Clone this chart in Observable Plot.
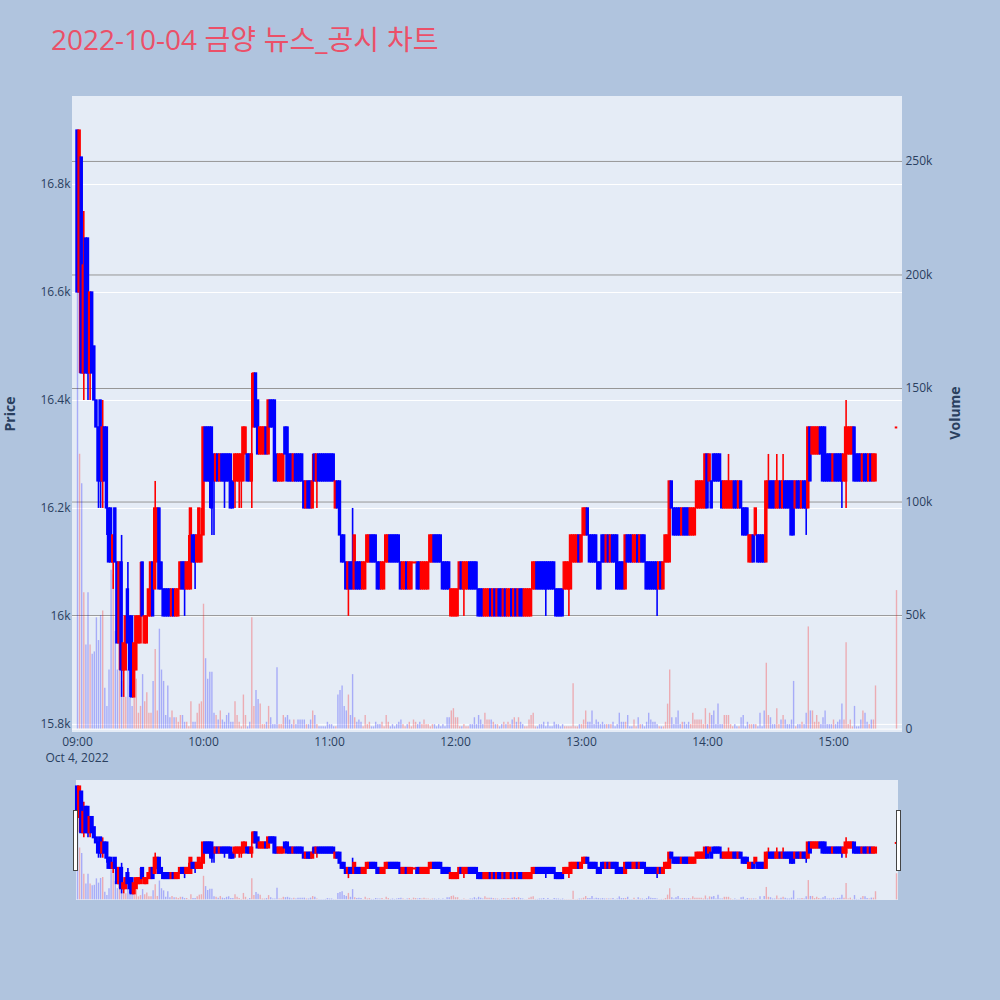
<!DOCTYPE html>
<html lang="ko">
<head>
<meta charset="utf-8">
<script src="https://cdn.jsdelivr.net/npm/d3@7"></script>
<script src="https://cdn.jsdelivr.net/npm/@observablehq/plot@0.6"></script>
<style>
  html, body { margin:0; padding:0; }
  body { width:1000px; height:1000px; background:#b0c4de; position:relative; overflow:hidden; font-family:"Open Sans", "Noto Sans CJK KR", sans-serif; }
  .layer { position:absolute; left:0; }
  .panel { position:absolute; background:#e5ecf6; }
  .handle { position:absolute; width:3px; height:59px; background:#ffffff; border:1px solid #444444; }
</style>
</head>
<body>
<div class="panel" style="left:72px;top:96px;width:830px;height:636px"></div>
<div class="panel" style="left:76px;top:780px;width:822px;height:120px"></div>
<svg class="layer" style="top:0" width="1000" height="1000" font-family="'Open Sans', sans-serif">
  <text x="51" y="50" font-size="28" fill="#eb5068">2022-10-04 <tspan font-family="'Noto Sans CJK KR'" font-size="28">금양 뉴스</tspan>_<tspan font-family="'Noto Sans CJK KR'" font-size="28">공시 차트</tspan></text>
  <text transform="translate(15,414) rotate(-90)" text-anchor="middle" font-size="14" font-weight="bold" fill="#2a3f5f">Price</text>
  <text transform="translate(960,413) rotate(-90)" text-anchor="middle" font-size="14" font-weight="bold" fill="#2a3f5f">Volume</text>
  <text x="77" y="762" text-anchor="middle" font-size="12" fill="#2a3f5f">Oct 4, 2022</text>
</svg>
<script>
// ---- data: 1-minute candles from 09:00 to 15:20, plus the 15:30 closing auction ----
const opens = [
16900,16600,16850,16450,16700,16700,16450,16600,16500,16400,
16350,16400,16250,16350,16350,16200,16200,16100,16200,16100,
15950,16100,15900,15900,16050,16000,16000,15850,15900,15950,
15950,16100,15950,15950,16000,16000,16100,16050,16100,16200,
16100,16050,16050,16050,16050,16000,16050,16000,16000,16050,
16100,16100,16050,16050,16050,16150,16150,16100,16100,16100,
16150,16350,16350,16350,16350,16300,16250,16300,16250,16300,
16300,16300,16300,16300,16250,16250,16250,16250,16250,16250,
16300,16300,16300,16250,16350,16450,16400,16300,16300,16300,
16350,16300,16400,16400,16400,16300,16250,16250,16250,16350,
16350,16300,16300,16250,16300,16300,16300,16300,16250,16200,
16250,16250,16200,16300,16250,16300,16300,16300,16300,16300,
16300,16300,16300,16200,16250,16250,16150,16150,16100,16050,
16100,16100,16050,16100,16100,16100,16050,16050,16100,16100,
16150,16150,16150,16100,16100,16050,16050,16100,16100,16150,
16150,16150,16150,16150,16100,16050,16050,16100,16050,16050,
16100,16100,16100,16100,16050,16050,16050,16050,16100,16100,
16150,16150,16150,16150,16100,16100,16100,16100,16000,16000,
16000,16000,16050,16100,16050,16050,16050,16100,16100,16100,
16100,16050,16050,16050,16000,16000,16000,16050,16000,16050,
16000,16050,16050,16000,16050,16000,16000,16050,16000,16050,
16000,16050,16050,16000,16000,16000,16000,16050,16050,16100,
16100,16100,16100,16100,16100,16100,16100,16100,16050,16050,
16050,16050,16050,16050,16050,16050,16100,16100,16100,16150,
16100,16150,16150,16200,16150,16150,16150,16150,16100,16100,
16150,16150,16100,16150,16100,16150,16150,16150,16100,16100,
16100,16050,16150,16150,16150,16100,16100,16150,16100,16150,
16150,16100,16100,16100,16100,16100,16100,16050,16100,16050,
16100,16100,16100,16250,16200,16200,16200,16200,16150,16200,
16200,16200,16150,16150,16150,16200,16200,16200,16200,16200,
16300,16250,16250,16300,16300,16300,16300,16250,16200,16200,
16200,16200,16200,16250,16250,16200,16250,16200,16200,16200,
16100,16100,16150,16150,16150,16150,16150,16150,16100,16200,
16250,16250,16250,16200,16200,16250,16200,16250,16250,16250,
16250,16250,16200,16250,16250,16200,16250,16250,16200,16350,
16300,16300,16300,16300,16350,16350,16350,16300,16300,16300,
16250,16300,16300,16300,16300,16250,16250,16300,16300,16300,
16350,16300,16300,16300,16250,16300,16300,16250,16300,16250,
16250,
16350];
const highs = [
16900,16900,16850,16750,16700,16700,16600,16600,16500,16400,
16350,16400,16400,16350,16350,16200,16200,16150,16200,16100,
16100,16150,15950,16000,16100,16000,16000,15950,16000,16000,
16100,16100,16000,16000,16050,16100,16100,16250,16200,16200,
16100,16050,16050,16050,16050,16050,16050,16050,16050,16100,
16100,16100,16100,16150,16200,16150,16150,16150,16200,16200,
16350,16350,16350,16350,16350,16300,16300,16300,16300,16300,
16300,16300,16300,16300,16250,16300,16300,16300,16300,16350,
16350,16300,16300,16450,16450,16450,16400,16350,16350,16350,
16350,16400,16400,16400,16400,16300,16300,16300,16300,16350,
16350,16300,16300,16300,16300,16300,16300,16300,16250,16250,
16250,16250,16300,16300,16300,16300,16300,16300,16300,16300,
16300,16300,16300,16250,16250,16250,16150,16150,16100,16100,
16100,16200,16150,16100,16100,16100,16100,16100,16150,16150,
16150,16150,16150,16100,16100,16100,16100,16150,16150,16150,
16150,16150,16150,16150,16100,16100,16100,16100,16100,16100,
16100,16100,16100,16100,16100,16100,16100,16100,16150,16150,
16150,16150,16150,16150,16100,16100,16100,16100,16050,16050,
16050,16050,16100,16100,16100,16100,16100,16100,16100,16100,
16100,16050,16050,16050,16050,16050,16050,16050,16050,16050,
16050,16050,16050,16050,16050,16050,16050,16050,16050,16050,
16050,16050,16050,16050,16050,16050,16050,16100,16100,16100,
16100,16100,16100,16100,16100,16100,16100,16100,16050,16050,
16050,16050,16100,16100,16100,16150,16150,16150,16150,16150,
16150,16200,16200,16200,16150,16150,16150,16150,16100,16100,
16150,16150,16150,16150,16150,16150,16150,16150,16100,16100,
16100,16150,16150,16150,16150,16150,16150,16150,16150,16150,
16150,16100,16100,16100,16100,16100,16100,16100,16100,16100,
16150,16150,16250,16250,16200,16200,16200,16200,16200,16200,
16200,16200,16200,16200,16200,16250,16250,16250,16250,16300,
16300,16300,16250,16300,16300,16300,16300,16250,16250,16250,
16300,16250,16250,16250,16250,16250,16250,16200,16200,16200,
16150,16150,16150,16200,16150,16150,16150,16150,16250,16300,
16250,16250,16250,16300,16250,16250,16300,16250,16250,16250,
16250,16250,16250,16250,16250,16250,16250,16250,16350,16350,
16350,16350,16350,16350,16350,16350,16350,16300,16300,16300,
16300,16300,16300,16300,16300,16300,16400,16350,16350,16350,
16350,16300,16300,16300,16300,16300,16300,16300,16300,16300,
16300,
16350];
const lows = [
16600,16450,16450,16400,16450,16400,16400,16450,16400,16350,
16200,16200,16200,16250,16150,16100,16100,16050,16100,15950,
15900,15850,15850,15900,15950,15850,15850,15850,15900,15950,
15950,16000,15950,15950,16000,16000,16000,16050,16100,16050,
16050,16000,16000,16000,16000,16000,16000,16000,16000,16050,
16050,16000,16050,16050,16050,16100,16050,16100,16100,16100,
16150,16250,16250,16200,16150,16150,16250,16250,16250,16250,
16200,16250,16250,16200,16200,16200,16250,16200,16200,16250,
16300,16250,16250,16200,16350,16350,16300,16300,16300,16300,
16300,16300,16350,16350,16250,16250,16250,16250,16250,16300,
16250,16250,16250,16250,16250,16250,16250,16250,16200,16200,
16200,16200,16200,16250,16200,16250,16250,16250,16250,16250,
16250,16250,16250,16200,16200,16150,16100,16100,16050,16000,
16050,16050,16050,16050,16050,16050,16050,16050,16100,16100,
16100,16100,16100,16050,16050,16050,16050,16100,16100,16100,
16100,16100,16100,16100,16050,16050,16050,16050,16050,16050,
16100,16100,16050,16050,16050,16050,16050,16050,16100,16100,
16100,16100,16100,16100,16050,16050,16050,16050,16000,16000,
16000,16000,16050,16050,16000,16050,16050,16050,16050,16050,
16050,16000,16000,16000,16000,16000,16000,16000,16000,16000,
16000,16000,16000,16000,16000,16000,16000,16000,16000,16000,
16000,16000,16000,16000,16000,16000,16000,16050,16050,16050,
16050,16050,16050,16000,16050,16050,16050,16050,16000,16000,
16000,16000,16050,16050,16000,16050,16100,16100,16100,16100,
16100,16150,16150,16150,16100,16100,16100,16100,16050,16050,
16100,16100,16100,16100,16100,16100,16100,16050,16050,16050,
16050,16050,16100,16100,16100,16100,16100,16100,16100,16100,
16100,16050,16050,16050,16050,16050,16000,16050,16050,16050,
16100,16100,16100,16200,16150,16150,16150,16150,16150,16150,
16150,16150,16150,16150,16150,16200,16200,16200,16200,16200,
16200,16250,16200,16250,16250,16250,16250,16200,16200,16200,
16200,16200,16200,16200,16200,16200,16200,16150,16150,16150,
16100,16100,16100,16150,16100,16100,16100,16100,16100,16200,
16200,16200,16200,16200,16200,16200,16200,16200,16200,16200,
16150,16150,16200,16200,16200,16200,16200,16150,16200,16250,
16300,16300,16300,16300,16300,16250,16250,16250,16250,16250,
16250,16250,16250,16250,16200,16250,16200,16300,16300,16300,
16250,16250,16250,16250,16250,16250,16250,16250,16250,16250,
16250,
16350];
const closes = [
16600,16900,16450,16650,16450,16450,16600,16450,16400,16350,
16250,16250,16350,16250,16200,16100,16100,16150,16100,15950,
16100,15900,15950,16000,15950,15900,15850,15950,16000,16000,
16000,16000,16000,16000,16050,16100,16000,16200,16200,16050,
16050,16000,16000,16000,16000,16050,16000,16050,16050,16100,
16050,16050,16100,16100,16200,16100,16100,16150,16200,16150,
16350,16250,16250,16250,16200,16250,16300,16250,16300,16250,
16250,16250,16250,16200,16200,16300,16300,16300,16300,16350,
16350,16250,16250,16300,16450,16350,16300,16350,16350,16350,
16300,16400,16350,16350,16250,16250,16300,16300,16300,16300,
16250,16250,16250,16300,16250,16250,16250,16250,16200,16250,
16200,16200,16250,16250,16300,16250,16250,16250,16250,16250,
16250,16250,16250,16250,16200,16150,16100,16100,16050,16100,
16050,16050,16150,16050,16050,16050,16100,16100,16150,16150,
16100,16100,16100,16050,16050,16100,16100,16150,16150,16100,
16100,16100,16100,16100,16050,16100,16100,16050,16100,16100,
16100,16100,16050,16050,16100,16100,16100,16100,16150,16150,
16100,16100,16100,16100,16050,16050,16050,16050,16050,16050,
16050,16050,16100,16050,16100,16100,16100,16050,16050,16050,
16050,16000,16000,16000,16050,16050,16050,16000,16050,16000,
16050,16000,16000,16050,16000,16050,16050,16000,16050,16000,
16050,16000,16000,16050,16050,16050,16050,16100,16100,16050,
16050,16050,16050,16050,16050,16050,16050,16050,16000,16000,
16000,16000,16100,16100,16100,16150,16150,16150,16150,16100,
16150,16200,16200,16150,16100,16100,16100,16100,16050,16050,
16100,16100,16150,16100,16150,16100,16100,16050,16050,16050,
16050,16150,16100,16100,16100,16150,16150,16100,16150,16100,
16100,16050,16050,16050,16050,16050,16050,16100,16050,16100,
16150,16150,16250,16200,16150,16150,16150,16150,16200,16150,
16150,16150,16200,16200,16200,16250,16250,16250,16250,16300,
16200,16300,16200,16250,16250,16250,16250,16200,16250,16250,
16250,16250,16250,16200,16200,16250,16200,16150,16150,16150,
16150,16150,16100,16200,16100,16100,16100,16100,16250,16250,
16200,16200,16200,16250,16250,16200,16250,16200,16200,16200,
16150,16150,16250,16200,16200,16250,16200,16200,16350,16250,
16350,16350,16350,16350,16300,16250,16250,16250,16250,16250,
16300,16250,16250,16250,16250,16300,16350,16350,16350,16350,
16250,16250,16250,16250,16300,16250,16250,16300,16250,16300,
16300,
16350];
// traded volume per minute, in thousands of shares
const volumesK = [
262,121,108,60,37,60,37,33,34,49,
39,50,52,18,10,26,70,68,43,26,
26,21,14,14,26,19,10,17,22,7,
10,24,12,16,7,7,21,35,8,44,
26,21,6,19,5,8,5,5,3,6,
6,3,3,1,12,3,3,7,11,12,
55,31,22,25,25,7,6,4,8,4,
3,6,7,3,3,12,6,3,1,15,
6,1,3,49,10,17,13,11,2,2,
3,10,5,2,2,27,2,2,6,5,
6,4,2,4,2,4,4,4,4,2,
2,4,8,6,2,1,1,1,1,3,
2,2,1,1,15,17,19,10,8,15,
6,24,5,3,4,3,1,6,2,3,
1,1,3,2,2,3,1,6,3,1,
2,1,2,3,4,2,1,2,3,1,
4,3,2,3,2,4,2,2,1,2,
2,1,2,1,2,1,5,5,8,9,
5,5,1,1,2,1,1,2,2,5,
2,6,4,2,7,4,4,4,3,2,
2,1,2,3,2,3,2,4,5,3,
5,3,2,1,1,4,6,7,1,1,
2,2,3,1,3,1,1,3,2,2,
1,2,1,1,1,1,20,1,1,2,
2,4,8,3,3,8,2,4,3,2,
3,2,2,2,2,3,1,2,7,3,
3,3,6,1,1,4,1,5,2,2,
1,3,7,4,3,3,2,1,1,1,
3,11,26,5,2,5,8,2,3,3,
2,3,2,7,4,4,4,4,2,9,
2,7,6,8,2,11,2,2,6,6,
6,2,1,2,1,1,5,6,1,3,
2,2,2,2,1,7,1,8,29,6,
5,2,2,9,2,4,6,4,2,2,
4,21,1,2,2,3,2,7,45,8,
8,3,6,3,2,5,8,2,2,2,
4,2,3,4,11,4,38,2,4,1,
10,1,1,4,8,7,3,2,4,4,
19,
61];
const priceTicks = [15800, 16000, 16200, 16400, 16600, 16800];
const volumeTicksK = [0, 50, 100, 150, 200, 250];
const timeTicks = [0, 60, 120, 180, 240, 300, 360]; // minutes after 09:00
const closingAuctionMinute = 390;                     // 15:30
const sessionMinutes = [...d3.range(0, 381), closingAuctionMinute];

// ---- build table ----
const candles = opens.map((o, i) => ({t: sessionMinutes[i], o, h: highs[i], l: lows[i], c: closes[i], v: volumesK[i]}));
candles.forEach((d, i) => {
  d.up = d.c > d.o || (d.c === d.o && (i === 0 || d.c >= candles[i - 1].c));
  d.flat = d.c === d.o;
});

const X_DOMAIN = [-2.381, 392.857];
const PRICE_DOMAIN = [15785, 16963];
const VOL_DOMAIN = [-1.5, 278.6];
const RED = "#ff0000", BLUE = "#0000ff", INK = "#2a3f5f";
const col = d => d.up ? RED : BLUE;
const fmtTime = m => `${String(9 + Math.floor(m / 60)).padStart(2, "0")}:${String(m % 60).padStart(2, "0")}`;

const baseStyle = {background: "transparent", color: INK, fontFamily: "'Open Sans', sans-serif", fontSize: "12px", overflow: "visible"};
const base = {width: 1000, marginLeft: 72, marginRight: 98, style: baseStyle, color: {type: "identity"}};

function layer(node, top) {
  const d = document.createElement("div");
  d.className = "layer";
  d.style.top = top + "px";
  d.appendChild(node);
  document.body.appendChild(d);
}

function candleMarks(wickW, bodyStroke) {
  return [
    Plot.ruleX(candles, {x: "t", y1: "l", y2: "h", stroke: col, strokeWidth: wickW}),
    Plot.rect(candles.filter(d => !d.flat), {x1: d => d.t - 0.5, x2: d => d.t + 0.5, y1: "o", y2: "c", fill: col, stroke: col, strokeWidth: bodyStroke}),
    Plot.ruleY(candles.filter(d => d.flat), {x1: d => d.t - 0.6, x2: d => d.t + 0.6, y: "o", stroke: col, strokeWidth: 2})
  ];
}
function volumeMarks(w) {
  return [Plot.ruleX(candles, {x: "t", y1: 0, y2: "v", stroke: col, strokeOpacity: 0.27, strokeWidth: w})];
}

const mainDims = {height: 780, marginTop: 96, marginBottom: 48};

// layer 1: price grid + left and bottom axes
layer(Plot.plot({
  ...base, ...mainDims,
  x: {domain: X_DOMAIN, ticks: timeTicks, tickFormat: fmtTime, tickSize: 0, tickPadding: 5, label: null},
  y: {domain: PRICE_DOMAIN, ticks: priceTicks, tickFormat: d3.format("~s"), tickSize: 0, tickPadding: 2, label: null},
  marks: [Plot.ruleY(priceTicks, {stroke: "#ffffff", strokeWidth: 1})]
}), 0);

// layer 2: volume grid, bars and right axis
layer(Plot.plot({
  ...base, ...mainDims,
  x: {domain: X_DOMAIN, axis: null},
  y: {domain: VOL_DOMAIN, axis: "right", ticks: volumeTicksK, tickFormat: d => d === 0 ? "0" : d + "k", tickSize: 0, tickPadding: 3, label: null},
  marks: [
    Plot.ruleY(volumeTicksK.filter(d => d > 0), {stroke: "#969696", strokeWidth: 1}),
    Plot.ruleY([0], {stroke: "#ffffff", strokeWidth: 1}),
    ...volumeMarks(1.4)
  ]
}), 0);

// layer 3: candles
layer(Plot.plot({
  ...base, ...mainDims,
  x: {domain: X_DOMAIN, axis: null},
  y: {domain: PRICE_DOMAIN, axis: null},
  marks: candleMarks(1.6, 1.3)
}), 0);

// range slider (volume + candles)
const sliderDims = {height: 120, marginTop: 0, marginBottom: 0};
layer(Plot.plot({
  ...base, ...sliderDims,
  x: {domain: X_DOMAIN, axis: null},
  y: {domain: VOL_DOMAIN, axis: null},
  marks: volumeMarks(1.4)
}), 780);
layer(Plot.plot({
  ...base, ...sliderDims,
  x: {domain: X_DOMAIN, axis: null},
  y: {domain: PRICE_DOMAIN, axis: null},
  marks: candleMarks(1.6, 2)
}), 780);

// slider grabbers
for (const left of [73, 896]) {
  const h = document.createElement("div");
  h.className = "handle";
  h.style.left = left + "px";
  h.style.top = "810px";
  document.body.appendChild(h);
}
</script>
</body>
</html>
